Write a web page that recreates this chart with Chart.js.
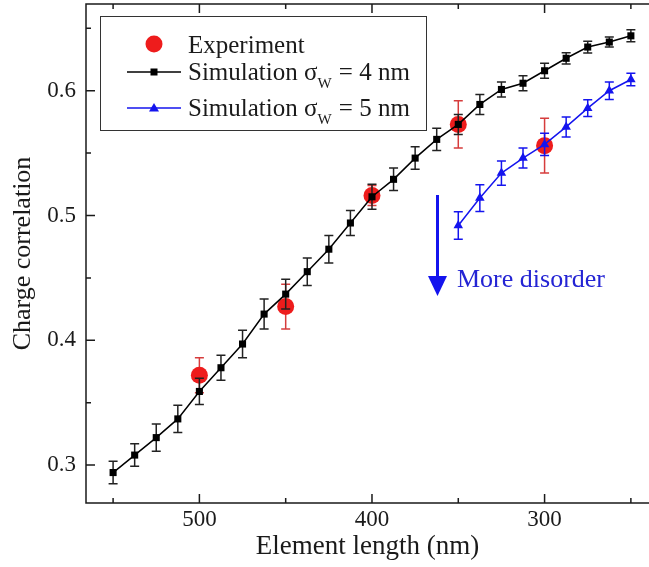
<!DOCTYPE html>
<html>
<head>
<meta charset="utf-8">
<script src="https://cdn.jsdelivr.net/npm/chart.js@4.4.1/dist/chart.umd.min.js"></script>
<style>
  body { margin: 0; background: #fff; }
  canvas { display: block; }
</style>
</head>
<body>
<canvas id="chart" width="649" height="567"></canvas>
<script>
// element lengths (nm) and charge correlation values
const lengths4 = [550, 537.5, 525, 512.5, 500, 487.5, 475, 462.5, 450, 437.5, 425, 412.5, 400,
  387.5, 375, 362.5, 350, 337.5, 325, 312.5, 300, 287.5, 275, 262.5, 250];
const sim4 = [0.294, 0.308, 0.322, 0.337, 0.359, 0.378, 0.397, 0.421, 0.437, 0.455, 0.473, 0.494, 0.515,
  0.529, 0.546, 0.561, 0.573, 0.589, 0.601, 0.606, 0.616, 0.626, 0.635, 0.639, 0.644];
const sim4Err = [0.009, 0.009, 0.011, 0.011, 0.0105, 0.010, 0.011, 0.012, 0.012, 0.011, 0.011, 0.010, 0.010,
  0.009, 0.009, 0.009, 0.008, 0.008, 0.006, 0.006, 0.006, 0.0045, 0.0047, 0.004, 0.0048];

const lengths5 = [350, 337.5, 325, 312.5, 300, 287.5, 275, 262.5, 250];
const sim5 = [0.492, 0.514, 0.534, 0.546, 0.557, 0.571, 0.586, 0.600, 0.609];
const sim5Err = [0.011, 0.0107, 0.0097, 0.008, 0.009, 0.008, 0.0067, 0.007, 0.005];

const expLengths = [500, 450, 400, 350, 300];
const expValues = [0.372, 0.427, 0.516, 0.573, 0.556];
const expErr = [0.014, 0.018, 0.008, 0.019, 0.022];

const xTickValues = [500, 400, 300];
const xMinorTicks = [550, 450, 350, 250];
const yTickValues = [0.3, 0.4, 0.5, 0.6];
const yMinorTicks = [0.35, 0.45, 0.55, 0.65];

const legendLabels = [
  ["Experiment"],
  ["Simulation \u03c3", "W", " = 4 nm"],
  ["Simulation \u03c3", "W", " = 5 nm"],
];

const serif = "'Liberation Serif', 'Times New Roman', serif";
const RED = "#ee1c1c";
const BLUE = "#1414ee";
const INK = "#1a1a1a";

function toPoints(xs, ys) {
  return xs.map((x, i) => ({ x: x, y: ys[i] }));
}

const errorSets = [expErr, sim4Err, sim5Err];
const errorColors = ["#d63c3c", "#222", BLUE];

// error bars under each dataset's markers
const errorBars = {
  id: "errorBars",
  beforeDatasetDraw(chart, args) {
    const errs = errorSets[args.index];
    if (!errs) return;
    const ctx = chart.ctx;
    const y = chart.scales.y;
    ctx.save();
    ctx.strokeStyle = errorColors[args.index];
    ctx.lineWidth = 1.5;
    args.meta.data.forEach((pt, i) => {
      const v = chart.data.datasets[args.index].data[i].y;
      const top = y.getPixelForValue(v + errs[i]);
      const bot = y.getPixelForValue(v - errs[i]);
      ctx.beginPath();
      ctx.moveTo(pt.x, top); ctx.lineTo(pt.x, bot);
      ctx.moveTo(pt.x - 4.5, top); ctx.lineTo(pt.x + 4.5, top);
      ctx.moveTo(pt.x - 4.5, bot); ctx.lineTo(pt.x + 4.5, bot);
      ctx.stroke();
    });
    ctx.restore();
  },
};

// frame with inward ticks, legend box and the "More disorder" arrow
const decorations = {
  id: "decorations",
  afterDraw(chart) {
    const ctx = chart.ctx;
    const a = chart.chartArea;
    const xs = chart.scales.x, ys = chart.scales.y;
    ctx.save();
    ctx.strokeStyle = INK;
    ctx.lineWidth = 1.5;
    ctx.beginPath();
    ctx.moveTo(a.right + 2, a.top); ctx.lineTo(a.left, a.top);
    ctx.lineTo(a.left, a.bottom); ctx.lineTo(a.right + 2, a.bottom);
    ctx.stroke();

    ctx.beginPath();
    const xt = (v, len) => {
      const px = xs.getPixelForValue(v);
      ctx.moveTo(px, a.bottom); ctx.lineTo(px, a.bottom - len);
      ctx.moveTo(px, a.top); ctx.lineTo(px, a.top + len);
    };
    xTickValues.forEach((v) => xt(v, 9));
    xMinorTicks.forEach((v) => xt(v, 5));
    const yt = (v, len) => {
      const py = ys.getPixelForValue(v);
      ctx.moveTo(a.left, py); ctx.lineTo(a.left + len, py);
    };
    yTickValues.forEach((v) => yt(v, 9));
    yMinorTicks.forEach((v) => yt(v, 5));
    ctx.stroke();

    // legend
    ctx.lineWidth = 1;
    ctx.strokeStyle = "#333";
    ctx.strokeRect(100.5, 16.5, 326, 114);

    ctx.fillStyle = RED;
    ctx.beginPath();
    ctx.arc(154, 44, 8.5, 0, Math.PI * 2);
    ctx.fill();

    ctx.lineWidth = 1.5;
    ctx.strokeStyle = "#000";
    ctx.beginPath(); ctx.moveTo(127, 72); ctx.lineTo(181, 72); ctx.stroke();
    ctx.fillStyle = "#000";
    ctx.fillRect(150.5, 68.5, 7, 7);

    ctx.strokeStyle = BLUE;
    ctx.beginPath(); ctx.moveTo(127, 108); ctx.lineTo(181, 108); ctx.stroke();
    ctx.fillStyle = BLUE;
    ctx.beginPath();
    ctx.moveTo(154, 103); ctx.lineTo(159, 111.5); ctx.lineTo(149, 111.5);
    ctx.closePath(); ctx.fill();

    const baselines = [53, 80, 116];
    ctx.fillStyle = INK;
    ctx.textBaseline = "alphabetic";
    legendLabels.forEach((parts, r) => {
      let x = 188;
      parts.forEach((p, k) => {
        const sub = k === 1;
        ctx.font = (sub ? "15px " : "25px ") + serif;
        ctx.fillText(p, x, baselines[r] + (sub ? 8 : 0));
        x += ctx.measureText(p).width + (sub ? 1 : 0);
      });
    });

    // annotation arrow
    ctx.strokeStyle = BLUE;
    ctx.fillStyle = BLUE;
    ctx.lineWidth = 3;
    ctx.beginPath(); ctx.moveTo(437.5, 195); ctx.lineTo(437.5, 278); ctx.stroke();
    ctx.beginPath();
    ctx.moveTo(428, 276); ctx.lineTo(447, 276); ctx.lineTo(437.5, 296);
    ctx.closePath(); ctx.fill();
    ctx.fillStyle = "#2424d4";
    ctx.font = "26px " + serif;
    ctx.fillText("More disorder", 457, 287);
    ctx.restore();
  },
};

new Chart(document.getElementById("chart"), {
  type: "line",
  data: {
    datasets: [
      {
        label: "Experiment",
        data: toPoints(expLengths, expValues),
        showLine: false,
        pointStyle: "circle",
        pointRadius: 8.5,
        pointBackgroundColor: RED,
        pointBorderWidth: 0,
        borderColor: RED,
        order: 3,
      },
      {
        label: "Simulation \u03c3W = 4 nm",
        data: toPoints(lengths4, sim4),
        borderColor: "#000",
        borderWidth: 1.5,
        pointStyle: "rect",
        pointRadius: 5,
        pointBackgroundColor: "#000",
        pointBorderWidth: 0,
        tension: 0,
        order: 1,
      },
      {
        label: "Simulation \u03c3W = 5 nm",
        data: toPoints(lengths5, sim5),
        borderColor: BLUE,
        borderWidth: 1.5,
        pointStyle: "triangle",
        pointRadius: 5.5,
        pointBackgroundColor: BLUE,
        pointBorderWidth: 0,
        tension: 0,
        order: 2,
      },
    ],
  },
  options: {
    responsive: false,
    animation: false,
    layout: { autoPadding: false, padding: { top: 4, right: 0, left: 0, bottom: 0 } },
    plugins: { legend: { display: false }, tooltip: { enabled: false } },
    scales: {
      x: {
        type: "linear",
        reverse: true,
        min: 239.5,
        max: 565.7,
        afterBuildTicks: (s) => { s.ticks = xTickValues.map((v) => ({ value: v })); },
        afterFit: (s) => { s.height = 64; s.paddingLeft = 0; s.paddingRight = 0; },
        grid: { display: false, drawTicks: false },
        border: { display: false },
        ticks: {
          padding: 3,
          maxRotation: 0,
          color: INK,
          font: { family: serif, size: 23 },
          callback: (v) => String(v),
        },
        title: {
          display: true,
          text: "Element length (nm)",
          color: INK,
          font: { family: serif, size: 27 },
          padding: { top: 0, bottom: 4 },
        },
      },
      y: {
        min: 0.2696,
        max: 0.6695,
        afterBuildTicks: (s) => { s.ticks = yTickValues.map((v) => ({ value: v })); },
        afterFit: (s) => { s.width = 86; s.paddingTop = 0; s.paddingBottom = 0; },
        grid: { display: false, drawTicks: false },
        border: { display: false },
        ticks: {
          padding: 10,
          color: INK,
          font: { family: serif, size: 23 },
          callback: (v) => v.toFixed(1),
        },
        title: {
          display: true,
          text: "Charge correlation",
          color: INK,
          font: { family: serif, size: 26 },
          padding: { top: 8, bottom: 0 },
        },
      },
    },
  },
  plugins: [errorBars, decorations],
});
</script>
</body>
</html>
